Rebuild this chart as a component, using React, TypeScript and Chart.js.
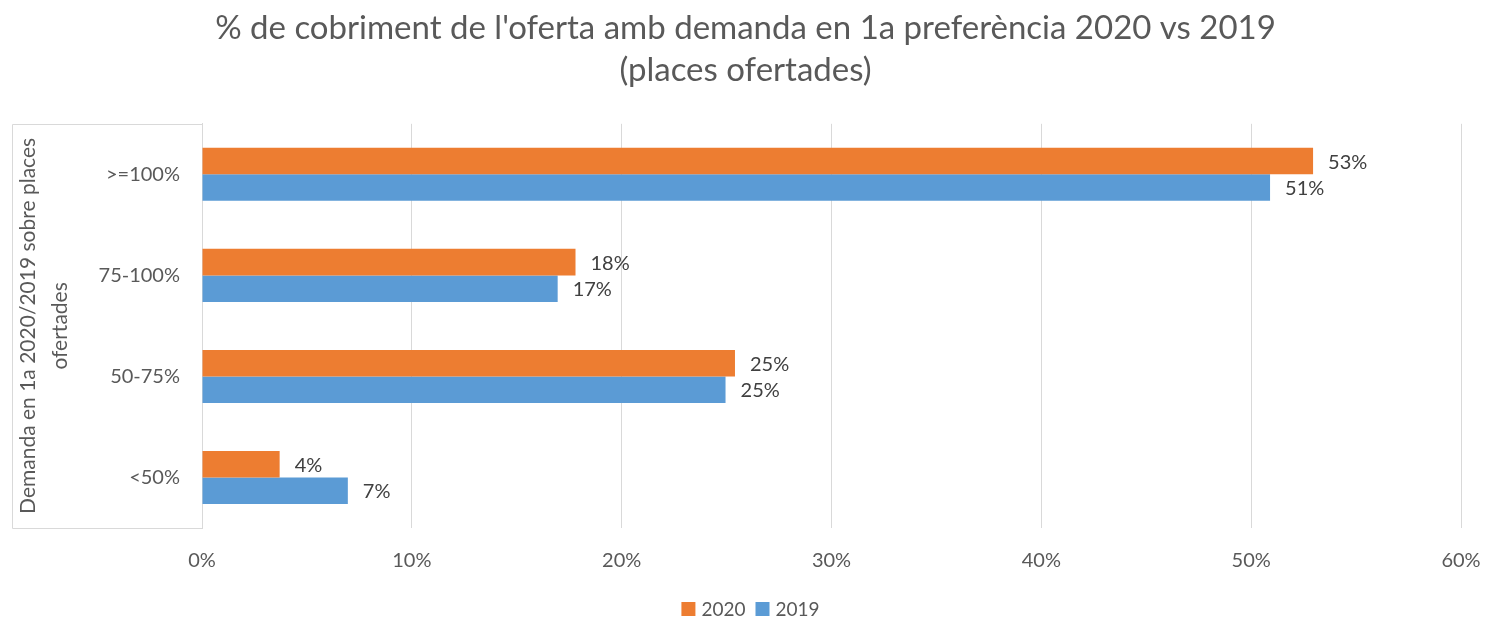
import React, { useEffect, useRef } from "react";
import { Chart, registerables } from "chart.js";

Chart.register(...registerables);

const categories = [">=100%", "75-100%", "50-75%", "<50%"];
const values2020 = [52.95, 17.8, 25.4, 3.7];
const values2019 = [50.9, 16.95, 24.95, 6.95];
const labels2020 = ["53%", "18%", "25%", "4%"];
const labels2019 = ["51%", "17%", "25%", "7%"];
const xTicks = [0, 10, 20, 30, 40, 50, 60];
const seriesNames = ["2020", "2019"];
const seriesColors = ["#ed7d31", "#5b9bd5"];

const FONT = "Lato, 'Open Sans', sans-serif";
const TEXT = "#595959";
const GRID = "#d9d9d9";

Chart.defaults.font.family = FONT;
Chart.defaults.color = TEXT;

const dataLabelPlugin = {
  id: "dataLabels",
  afterDatasetsDraw(chart: any) {
    const ctx = chart.ctx;
    ctx.save();
    ctx.font = `20px ${FONT}`;
    ctx.fillStyle = "#404040";
    ctx.textAlign = "left";
    ctx.textBaseline = "middle";
    const allLabels = [labels2020, labels2019];
    chart.data.datasets.forEach((_ds: any, di: number) => {
      const meta = chart.getDatasetMeta(di);
      meta.data.forEach((bar: any, i: number) => {
        ctx.fillText(allLabels[di][i], bar.x + 15, bar.y + 1);
      });
    });
    ctx.restore();
  },
};

const boxPlugin = {
  id: "axisBox",
  afterDraw(chart: any) {
    const { ctx, chartArea } = chart;
    ctx.save();
    ctx.strokeStyle = GRID;
    ctx.lineWidth = 1;
    ctx.beginPath();
    const lx = 12.5;
    const t = Math.round(chartArea.top) + 0.5;
    const b = Math.round(chartArea.bottom) + 0.5;
    const r = Math.round(chartArea.left) + 0.5;
    ctx.moveTo(r, t);
    ctx.lineTo(lx, t);
    ctx.lineTo(lx, b);
    ctx.lineTo(r, b);
    ctx.stroke();
    ctx.restore();
  },
};

const legendPlugin = {
  id: "customLegend",
  afterDraw(chart: any) {
    const ctx = chart.ctx;
    ctx.save();
    ctx.font = `19px ${FONT}`;
    ctx.textBaseline = "middle";
    ctx.textAlign = "left";
    const box = 14;
    const gapText = 6;
    const gapItem = 10;
    const widths = seriesNames.map((n) => box + gapText + ctx.measureText(n).width);
    const total = widths.reduce((a, b) => a + b, 0) + gapItem * (seriesNames.length - 1);
    let x = chart.width / 2 - total / 2 + 5;
    const cy = 609;
    seriesNames.forEach((n, i) => {
      ctx.fillStyle = seriesColors[i];
      ctx.fillRect(x, cy - box / 2, box, box);
      ctx.fillStyle = TEXT;
      ctx.fillText(n, x + box + gapText, cy + 1);
      x += widths[i] + gapItem;
    });
    ctx.restore();
  },
};

export default function App() {
  const ref = useRef<HTMLCanvasElement | null>(null);
  useEffect(() => {
    document.body.style.margin = "0";
    const chart = new Chart(ref.current as HTMLCanvasElement, {
      type: "bar",
      data: {
        labels: categories,
        datasets: [
          {
            label: seriesNames[0],
            data: values2020,
            backgroundColor: seriesColors[0],
            categoryPercentage: 0.525,
            barPercentage: 1,
          },
          {
            label: seriesNames[1],
            data: values2019,
            backgroundColor: seriesColors[1],
            categoryPercentage: 0.525,
            barPercentage: 1,
          },
        ],
      },
      options: {
        indexAxis: "y",
        animation: false,
        responsive: false,
        maintainAspectRatio: false,
        layout: { padding: { left: 0, right: 0, top: 7, bottom: 26 } },
        plugins: {
          title: {
            display: true,
            text: [
              "% de cobriment de l'oferta amb demanda en 1a preferència 2020 vs 2019",
              "(places ofertades)",
            ],
            color: TEXT,
            font: { family: FONT, size: 33, weight: "normal", lineHeight: 1.27 },
            padding: { top: 0, bottom: 33 },
          },
          legend: { display: false },
          tooltip: { enabled: false },
        },
        scales: {
          x: {
            min: 0,
            max: 60,
            afterBuildTicks(scale: any) {
              scale.ticks = xTicks.map((v) => ({ value: v }));
            },
            afterFit(scale: any) {
              scale.paddingRight = 30;
            },
            ticks: {
              color: TEXT,
              font: { family: FONT, size: 20 },
              padding: 21,
              callback: (v: any) => v + "%",
            },
            grid: { color: GRID, drawTicks: false },
            border: { display: false },
          },
          y: {
            afterFit(scale: any) {
              scale.width = 202;
            },
            ticks: {
              color: TEXT,
              font: { family: FONT, size: 20 },
              padding: 22,
            },
            grid: { display: false, drawTicks: false },
            border: { display: true, color: GRID },
            title: {
              display: true,
              text: ["Demanda en 1a 2020/2019 sobre places", "ofertades"],
              color: TEXT,
              font: { family: FONT, size: 21, lineHeight: 1.52 },
              padding: { top: 12, bottom: 0 },
            },
          },
        },
      },
      plugins: [dataLabelPlugin, boxPlugin, legendPlugin],
    });
    return () => chart.destroy();
  }, []);
  return <canvas ref={ref} width={1491} height={620} style={{ display: "block" }} />;
}
